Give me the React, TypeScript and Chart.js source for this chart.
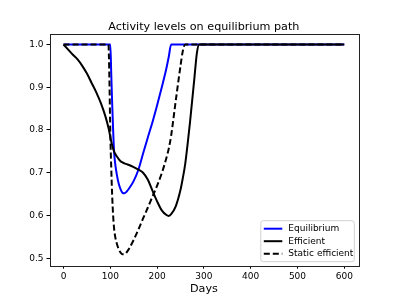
import React, { useEffect, useRef } from "react";
import { Chart, registerables } from "chart.js";

Chart.register(...registerables);

const days = [0, 10, 20, 30, 40, 50, 60, 70, 80, 90, 96, 98, 100, 102, 104, 106, 108, 110, 114, 118, 122, 126, 130, 135, 140, 150, 160, 170, 180, 190, 200, 210, 220, 225, 230, 240, 250, 255, 260, 270, 280, 285, 290, 600];

const equilibrium = [1, 1, 1, 1, 1, 1, 1, 1, 1, 1, 1, 1, 1, 0.93, 0.86, 0.8, 0.75, 0.725, 0.695, 0.674, 0.661, 0.653, 0.652, 0.656, 0.663, 0.681, 0.707, 0.745, 0.782, 0.818, 0.858, 0.9, 0.945, 0.972, 1, 1, 1, 1, 1, 1, 1, 1, 1, 1];

const efficient = [1, 0.988, 0.976, 0.965, 0.95, 0.932, 0.91, 0.888, 0.862, 0.83, 0.805, 0.795, 0.783, 0.773, 0.764, 0.756, 0.75, 0.745, 0.738, 0.732, 0.727, 0.724, 0.722, 0.72, 0.718, 0.713, 0.707, 0.7, 0.684, 0.658, 0.633, 0.612, 0.601, 0.599, 0.603, 0.622, 0.66, 0.688, 0.72, 0.815, 0.925, 0.98, 1, 1];

const staticEfficient = [1, 1, 1, 1, 1, 1, 1, 1, 1, 1, 1, 0.92, 0.79, 0.71, 0.645, 0.6, 0.57, 0.553, 0.534, 0.521, 0.513, 0.509, 0.509, 0.514, 0.522, 0.543, 0.567, 0.593, 0.618, 0.644, 0.67, 0.699, 0.735, 0.757, 0.787, 0.87, 0.95, 0.985, 1, 1, 1, 1, 1, 1];

const seriesNames = ["Equilibrium", "Efficient", "Static efficient"];
const xTicks = [0, 100, 200, 300, 400, 500, 600];
const yTicks = [0.5, 0.6, 0.7, 0.8, 0.9, 1.0];
const titleText = "Activity levels on equilibrium path";
const xLabel = "Days";

const FONT = "'DejaVu Sans', sans-serif";

const toPoints = (ys: number[]) => ys.map((y, i) => ({ x: days[i], y }));

const framePlugin = {
  id: "frameTitleLegend",
  afterDraw(chart: any) {
    const ctx = chart.ctx;
    const a = chart.chartArea;
    ctx.save();
    ctx.strokeStyle = "#222";
    ctx.lineWidth = 1;
    ctx.strokeRect(Math.round(a.left) + 0.5, Math.round(a.top) + 0.5, Math.round(a.right - a.left), Math.round(a.bottom - a.top));

    // title centred over the axes
    ctx.fillStyle = "#000";
    ctx.font = `11.2px ${FONT}`;
    ctx.textAlign = "center";
    ctx.textBaseline = "middle";
    ctx.fillText(titleText, (a.left + a.right) / 2, 26.8);

    // legend (lower right, inside axes)
    const w = 93.5;
    const h = 41;
    const x0 = a.right - 4 - w;
    const y0 = a.bottom - 4 - h;
    ctx.beginPath();
    const r = 2.5;
    ctx.moveTo(x0 + r, y0);
    ctx.lineTo(x0 + w - r, y0);
    ctx.quadraticCurveTo(x0 + w, y0, x0 + w, y0 + r);
    ctx.lineTo(x0 + w, y0 + h - r);
    ctx.quadraticCurveTo(x0 + w, y0 + h, x0 + w - r, y0 + h);
    ctx.lineTo(x0 + r, y0 + h);
    ctx.quadraticCurveTo(x0, y0 + h, x0, y0 + h - r);
    ctx.lineTo(x0, y0 + r);
    ctx.quadraticCurveTo(x0, y0, x0 + r, y0);
    ctx.closePath();
    ctx.fillStyle = "rgba(255,255,255,0.8)";
    ctx.fill();
    ctx.strokeStyle = "#d0d0d0";
    ctx.lineWidth = 1;
    ctx.stroke();

    chart.data.datasets.forEach((ds: any, i: number) => {
      const y = y0 + 8 + i * 12.5;
      ctx.beginPath();
      ctx.setLineDash(ds.borderDash || []);
      ctx.strokeStyle = ds.borderColor;
      ctx.lineWidth = 2;
      ctx.moveTo(x0 + 3, y);
      ctx.lineTo(x0 + 21.5, y);
      ctx.stroke();
      ctx.setLineDash([]);
      ctx.fillStyle = "#000";
      ctx.font = `9px ${FONT}`;
      ctx.textBaseline = "middle";
      ctx.textAlign = "left";
      ctx.fillText(ds.label, x0 + 27.5, y);
    });
    ctx.restore();
  },
};

export default function App() {
  const ref = useRef<HTMLCanvasElement | null>(null);

  useEffect(() => {
    if (!ref.current) return;
    const chart = new Chart(ref.current, {
      type: "line",
      data: {
        datasets: [
          {
            label: seriesNames[0],
            data: toPoints(equilibrium),
            borderColor: "#0000ff",
            borderWidth: 2,
            pointRadius: 0,
            cubicInterpolationMode: "monotone",
            fill: false,
            order: 3,
          },
          {
            label: seriesNames[1],
            data: toPoints(efficient),
            borderColor: "#000000",
            borderWidth: 2,
            pointRadius: 0,
            cubicInterpolationMode: "monotone",
            fill: false,
            order: 2,
          },
          {
            label: seriesNames[2],
            data: toPoints(staticEfficient),
            borderColor: "#000000",
            borderWidth: 2,
            borderDash: [6, 3],
            pointRadius: 0,
            cubicInterpolationMode: "monotone",
            fill: false,
            order: 1,
          },
        ],
      },
      options: {
        animation: false,
        responsive: false,
        devicePixelRatio: 1,
        layout: { padding: { left: 0, right: 40.7, top: 34, bottom: 0 } },
        plugins: {
          legend: { display: false },
          tooltip: { enabled: false },
          title: { display: false },
        },
        scales: {
          x: {
            type: "linear",
            min: -30,
            max: 630,
            afterBuildTicks: (s: any) => {
              s.ticks = xTicks.map((v) => ({ value: v }));
            },
            afterFit: (s: any) => {
              s.height = 33.3;
            },
            grid: { display: true, drawOnChartArea: false, drawTicks: true, tickLength: 3, color: "#000" },
            border: { display: false },
            ticks: {
              color: "#000",
              font: { family: FONT, size: 9 },
              padding: 3,
              maxRotation: 0,
              callback: (v: any) => String(v),
            },
            title: {
              display: true,
              text: xLabel,
              color: "#000",
              font: { family: FONT, size: 11.2 },
              padding: { top: 0, bottom: 3 },
            },
          },
          y: {
            type: "linear",
            min: 0.4825,
            max: 1.0245,
            afterBuildTicks: (s: any) => {
              s.ticks = yTicks.map((v) => ({ value: v }));
            },
            afterFit: (s: any) => {
              s.width = 49.5;
            },
            grid: { display: true, drawOnChartArea: false, drawTicks: true, tickLength: 3, color: "#000" },
            border: { display: false },
            ticks: {
              color: "#000",
              font: { family: FONT, size: 9 },
              padding: 3,
              callback: (v: any) => Number(v).toFixed(1),
            },
          },
        },
      },
      plugins: [framePlugin],
    } as any);
    return () => chart.destroy();
  }, []);

  return (
    <div style={{ position: "absolute", left: 0, top: 0, width: 399, height: 299, background: "#fff" }}>
      <canvas ref={ref} width={399} height={299} style={{ display: "block" }} />
    </div>
  );
}
